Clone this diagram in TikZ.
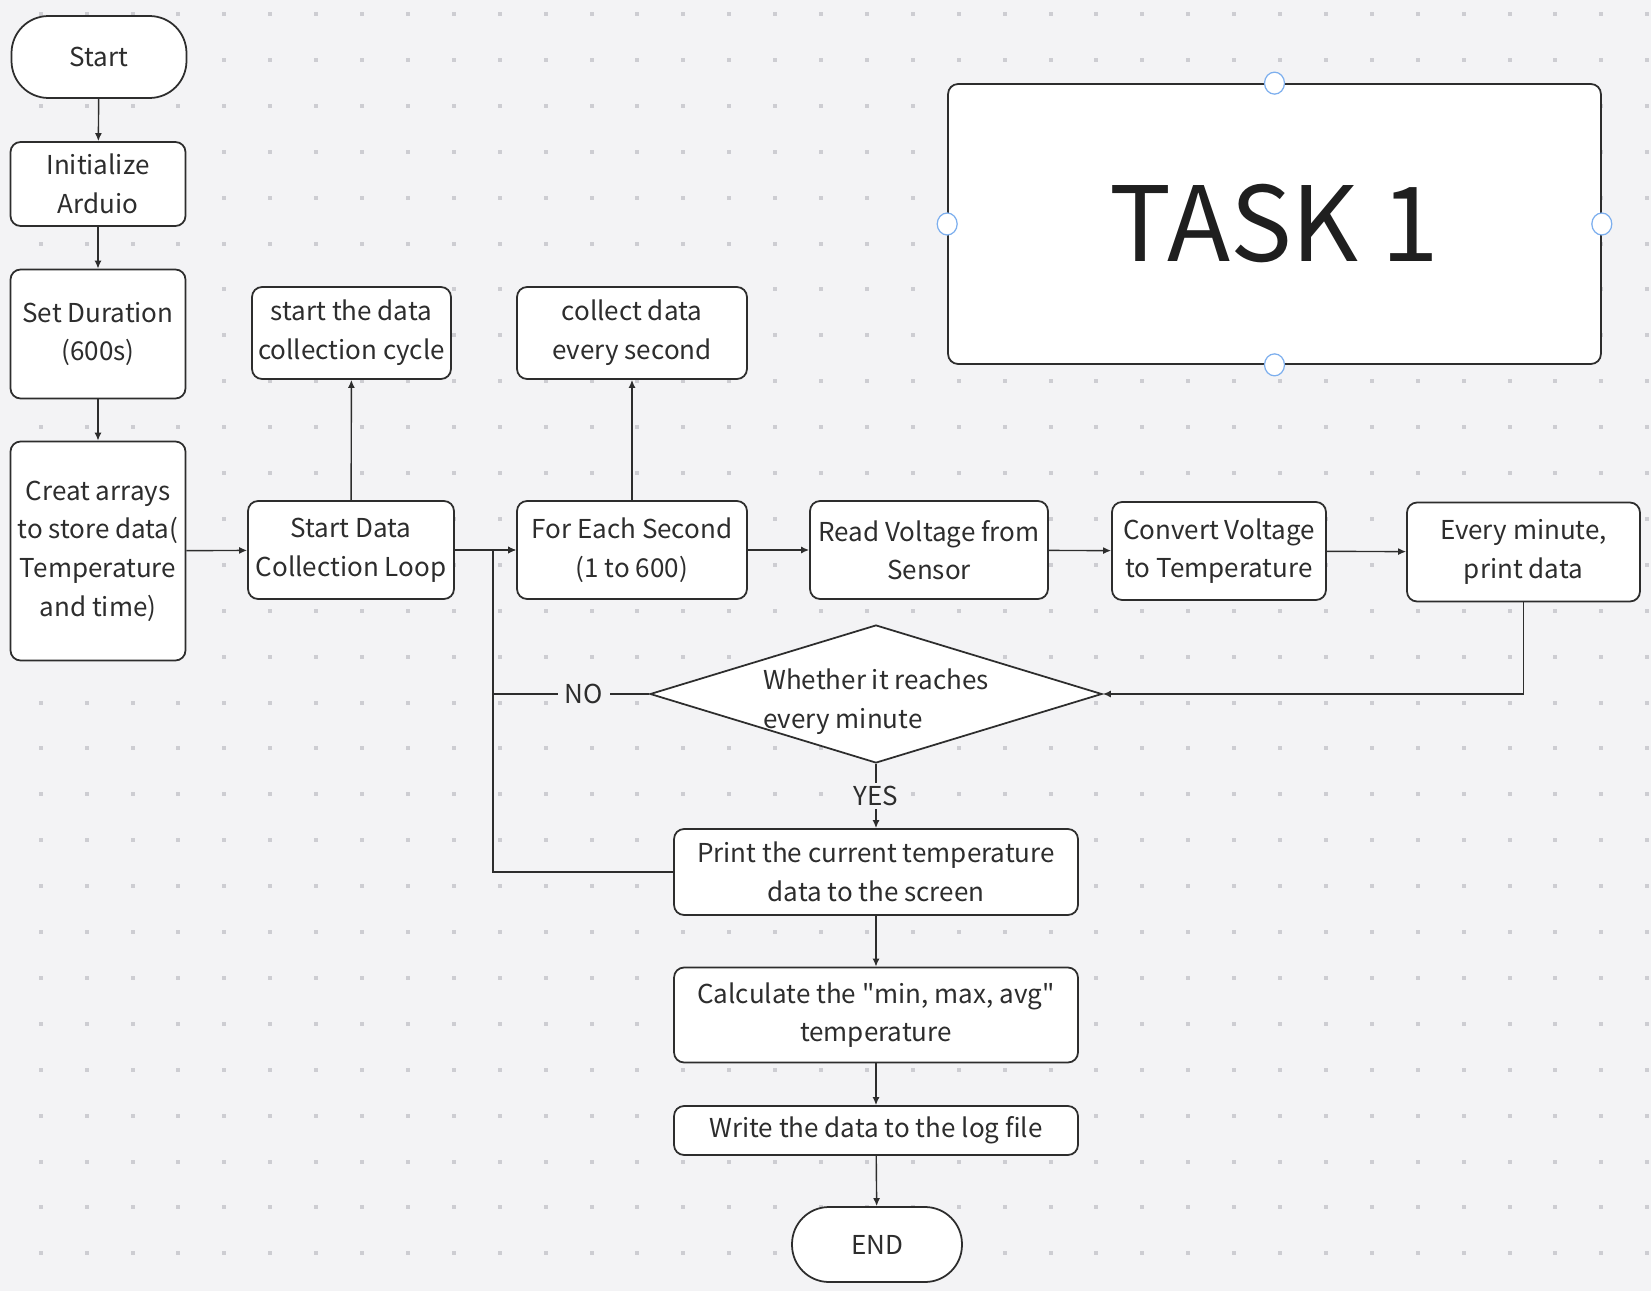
\documentclass[tikz,border=0pt]{standalone}
\usepackage{fontspec}
\setmainfont{Noto Sans CJK SC}[Ligatures=TeXOff]
\usetikzlibrary{arrows.meta,positioning,shapes.geometric}
\definecolor{canvas}{RGB}{243,243,245}
\definecolor{griddot}{RGB}{205,205,210}
\definecolor{ink}{RGB}{45,45,45}
\definecolor{handle}{RGB}{125,175,238}

\begin{document}
\begin{tikzpicture}[x=0.02cm,y=-0.02cm,
font=\fontsize{14.8}{22}\selectfont,
box/.style={draw=ink,line width=1pt,rounded corners=0.2cm,fill=white,
text=ink,align=center,inner sep=1pt},
term/.style={box,rounded corners=0.74cm},
dec/.style={diamond,draw=ink,line width=1pt,fill=white,
aspect=3.3,inner sep=0pt},
arr/.style={-{Latex[length=1.6mm,width=1.4mm]},ink,line width=0.8pt},
lnk/.style={ink,line width=0.8pt},
tag/.style={fill=canvas,text=ink,inner xsep=4pt,inner ysep=2pt}
]
% canvas with dot grid
\fill[canvas] (0,0) rectangle (1651,1291);
\useasboundingbox (0,0) rectangle (1651,1291);
\foreach \i in {0,...,35}
  \foreach \j in {0,...,27}
    \fill[griddot] ({40.7+45.9*\i-2},{14+45.9*\j-2}) rectangle ++(4,4);

% left column
\node[term,minimum width=3.5cm,minimum height=1.64cm] (start) at (99,57) {Start};
\node[box,minimum width=3.5cm,minimum height=1.68cm] (init) at (98,184) {Initialize\\Arduio};
\node[box,minimum width=3.5cm,minimum height=2.58cm] (setdur) at (98,334) {Set Duration\\(600s)};
\node[box,minimum width=3.5cm,minimum height=4.38cm] (arrays) at (98,551) {Creat arrays\\to store data(\\Temperature\\and time)};

% main row
\node[box,minimum width=4.12cm,minimum height=1.96cm] (loop) at (351,550) {Start Data\\Collection Loop};
\node[box,minimum width=3.98cm,minimum height=1.84cm] (cycle) at (351.5,333) {start the data\\collection cycle};
\node[box,minimum width=4.6cm,minimum height=1.96cm] (foreach) at (632,550) {For Each Second\\(1 to 600)};
\node[box,minimum width=4.6cm,minimum height=1.84cm] (collect) at (632,333) {collect data\\every second};
\node[box,minimum width=4.76cm,minimum height=1.96cm] (read) at (929,550) {Read Voltage from\\Sensor};
\node[box,minimum width=4.28cm,minimum height=1.96cm] (convert) at (1219,551) {Convert Voltage\\to Temperature};
\node[box,minimum width=4.66cm,minimum height=1.98cm] (every) at (1523.5,552) {Every minute,\\print data};

% check and output
\node[dec,minimum width=9.04cm,minimum height=2.76cm] (check) at (876,694) {};
\node[text=ink,align=left] (checktext) at ([yshift=-0.15cm]check.center) {Whether it reaches\\every minute};
\node[box,minimum width=8.08cm,minimum height=1.72cm] (print) at (876,872) {Print the current temperature\\data to the screen};
\node[box,minimum width=8.08cm,minimum height=1.9cm] (calc) at (876,1015) {Calculate the "min, max, avg"\\temperature};
\node[box,minimum width=8.08cm,minimum height=0.98cm] (write) at (876,1130.5) {Write the data to the log file};
\node[term,minimum width=3.4cm,minimum height=1.5cm] (finish) at (877,1244.5) {END};

% title card
\node[box,minimum width=13.06cm,minimum height=5.6cm,text=black!88,
font=\fontsize{59}{60}\selectfont] (task) at (1274.5,224) {TASK 1};
\foreach \a in {north,south,east,west}
  \draw[handle,fill=white,line width=0.7pt] (task.\a) ellipse (0.2cm and 0.22cm);

\coordinate (back) at (493,550);
\coordinate (nojoin) at (493,694);

\draw[arr] (start) -- (init);
\draw[arr] (init) -- (setdur);
\draw[arr] (setdur) -- (arrays);
\draw[arr] (arrays) -- (loop);
\draw[arr] (loop) -- (cycle);
\draw[arr] (loop) -- (foreach);
\draw[arr] (foreach) -- (collect);
\draw[arr] (foreach) -- (read);
\draw[arr] (read) -- (convert);
\draw[arr] (convert) -- (every);
\draw[arr] (every.south) |- (check.east);
\draw[lnk] (check.west) -- node[tag,pos=0.42]{NO} (nojoin);
\draw[arr] (print.west) -| (back) -- (foreach.west);
\draw[arr] (check.south) -- node[tag]{YES} (print.north);
\draw[arr] (print) -- (calc);
\draw[arr] (calc) -- (write);
\draw[arr] (write) -- (finish);
\end{tikzpicture}
\end{document}
